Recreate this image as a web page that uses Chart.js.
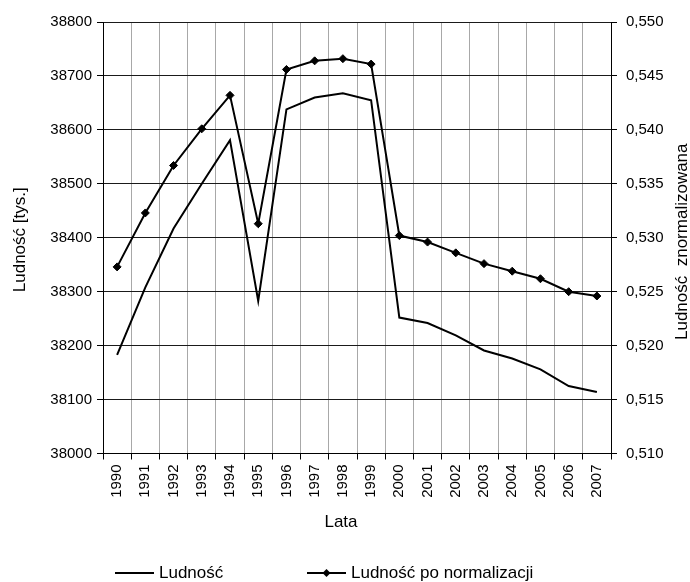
<!DOCTYPE html>
<html>
<head>
<meta charset="utf-8">
<script src="https://cdn.jsdelivr.net/npm/chart.js@4"></script>
<style>
  html, body { margin: 0; padding: 0; background: #fff; }
  #wrap { width: 690px; height: 582px; }
</style>
</head>
<body>
<div id="wrap"><canvas id="chart" width="690" height="582"></canvas></div>
<script>
// dane
const lata = ['1990', '1991', '1992', '1993', '1994', '1995', '1996', '1997', '1998',
              '1999', '2000', '2001', '2002', '2003', '2004', '2005', '2006', '2007'];
const ludnosc = [38183, 38308, 38417, 38500, 38581, 38283, 38638, 38660, 38668,
                 38655, 38252, 38242, 38219, 38191, 38176, 38156, 38125, 38114];
const ludnoscNorm = [0.5273, 0.5323, 0.5367, 0.5401, 0.5432, 0.5313, 0.5456, 0.5464, 0.5466,
                     0.5461, 0.5302, 0.5296, 0.5286, 0.5276, 0.5269, 0.5262, 0.5250, 0.5246];

const tytulLewy = 'Ludność [tys.]';
const tytulPrawy = 'Ludność  znormalizowana';
const tytulX = 'Lata';

const FONT = '"Liberation Sans", Arial, sans-serif';

// tytuly osi i legenda rysowane recznie
const extras = {
    id: 'extras',
    afterDraw(chart) {
        const ctx = chart.ctx;
        const a = chart.chartArea;
        const midY = (a.top + a.bottom) / 2;

        ctx.save();
        ctx.fillStyle = '#000';
        ctx.font = '17px ' + FONT;
        ctx.textAlign = 'center';
        ctx.textBaseline = 'middle';

        ctx.save();
        ctx.translate(20, midY + 2);
        ctx.rotate(-Math.PI / 2);
        ctx.fillText(tytulLewy, 0, 0);
        ctx.restore();

        ctx.save();
        ctx.translate(682, midY + 4);
        ctx.rotate(-Math.PI / 2);
        ctx.fillText(tytulPrawy, 0, 0);
        ctx.restore();

        ctx.fillText(tytulX, 341, 522);

        // legenda
        const legY = 573;
        const items = [{ x: 115, ds: chart.data.datasets[0] }, { x: 307, ds: chart.data.datasets[1] }];
        ctx.textAlign = 'left';
        items.forEach(it => {
            ctx.strokeStyle = it.ds.borderColor;
            ctx.lineWidth = 2;
            ctx.beginPath();
            ctx.moveTo(it.x, legY);
            ctx.lineTo(it.x + 39, legY);
            ctx.stroke();
            if (it.ds.pointRadius > 0) {
                const r = it.ds.pointRadius;
                const cx = it.x + 19.5;
                ctx.fillStyle = it.ds.pointBackgroundColor;
                ctx.beginPath();
                ctx.moveTo(cx, legY - r);
                ctx.lineTo(cx + r, legY);
                ctx.lineTo(cx, legY + r);
                ctx.lineTo(cx - r, legY);
                ctx.closePath();
                ctx.fill();
            }
            ctx.fillStyle = '#000';
            ctx.fillText(it.ds.label, it.x + 44, legY);
        });
        ctx.restore();
    }
};

new Chart(document.getElementById('chart'), {
    type: 'line',
    data: {
        labels: lata,
        datasets: [
            {
                label: 'Ludność',
                data: ludnosc,
                yAxisID: 'y',
                borderColor: '#000',
                borderWidth: 2,
                pointRadius: 0,
                tension: 0
            },
            {
                label: 'Ludność po normalizacji',
                data: ludnoscNorm,
                yAxisID: 'y1',
                borderColor: '#000',
                borderWidth: 2,
                pointStyle: 'rectRot',
                pointRadius: 4,
                pointBackgroundColor: '#000',
                pointBorderColor: '#000',
                pointBorderWidth: 1,
                tension: 0
            }
        ]
    },
    options: {
        responsive: false,
        animation: false,
        devicePixelRatio: 1,
        layout: { padding: { top: 22, left: 0, right: 0, bottom: 0 } },
        plugins: {
            legend: { display: false },
            tooltip: { enabled: false }
        },
        scales: {
            x: {
                offset: true,
                grid: {
                    offset: true,
                    color: '#a8a8a8',
                    tickColor: '#000',
                    tickLength: 6
                },
                border: { color: '#000', width: 1 },
                ticks: {
                    color: '#000',
                    font: { family: FONT, size: 15 },
                    maxRotation: 90,
                    minRotation: 90,
                    padding: 5,
                    autoSkip: false
                },
                afterFit(s) { s.height = 128.5; }
            },
            y: {
                position: 'left',
                min: 38000,
                max: 38800,
                grid: {
                    color: '#1a1a1a',
                    tickColor: '#000',
                    tickLength: 6
                },
                border: { color: '#000', width: 1 },
                ticks: {
                    stepSize: 100,
                    color: '#000',
                    font: { family: FONT, size: 15 },
                    padding: 5,
                    callback: v => String(v)
                },
                afterFit(s) { s.width = 103; }
            },
            y1: {
                position: 'right',
                min: 0.51,
                max: 0.55,
                grid: {
                    drawOnChartArea: false,
                    tickColor: '#000',
                    tickLength: 6
                },
                border: { color: '#000', width: 1 },
                ticks: {
                    stepSize: 0.005,
                    color: '#000',
                    font: { family: FONT, size: 15 },
                    padding: 9,
                    callback: v => v.toFixed(3).replace('.', ',')
                },
                afterFit(s) { s.width = 79; }
            }
        }
    },
    plugins: [extras]
});
</script>
</body>
</html>
